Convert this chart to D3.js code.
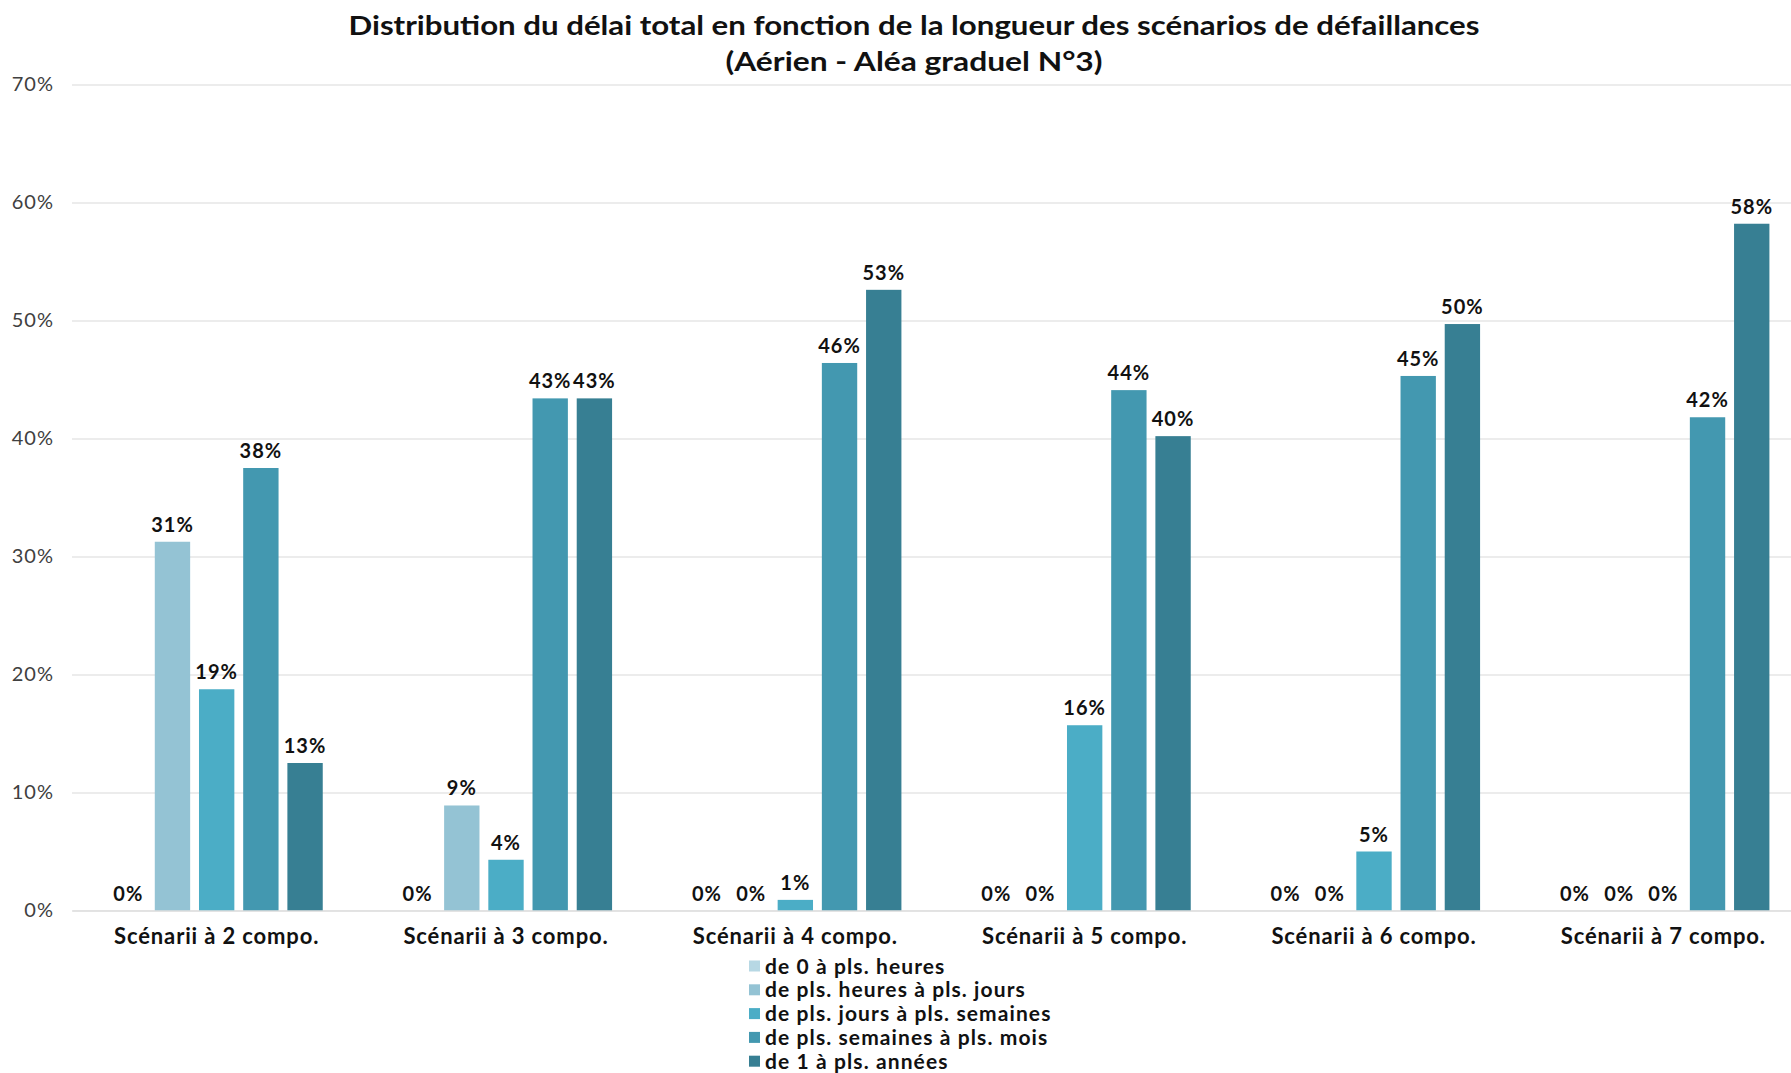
<!DOCTYPE html>
<html><head><meta charset="utf-8">
<script src="https://cdn.jsdelivr.net/npm/d3@7"></script>
<style>body{margin:0;background:#fff;}svg{display:block;font-family:Lato,"Open Sans",sans-serif;}</style>
</head><body>
<svg id="chart" width="1791" height="1073"></svg>
<script>
const categories = ["Scénarii à 2 compo.","Scénarii à 3 compo.","Scénarii à 4 compo.","Scénarii à 5 compo.","Scénarii à 6 compo.","Scénarii à 7 compo."];
const seriesNames = ["de 0 à pls. heures","de pls. heures à pls. jours","de pls. jours à pls. semaines","de pls. semaines à pls. mois","de 1 à pls. années"];
const s0 = [0,0,0,0,0,0];
const s1 = [31.25,8.9,0,0,0,0];
const s2 = [18.75,4.3,0.9,15.7,5.0,0];
const s3 = [37.5,43.4,46.4,44.1,45.3,41.8];
const s4 = [12.5,43.4,52.6,40.2,49.7,58.2];
const seriesValues = [s0,s1,s2,s3,s4];
const yTicks = [0,10,20,30,40,50,60,70];
const colors = ["#b7d8e4","#94c3d4","#4badc6","#4398b0","#377f93"];
const titleLines = ["Distribution du délai total en fonction de la longueur des scénarios de défaillances","(Aérien - Aléa graduel N°3)"];

const svg = d3.select("#chart");
const plotLeft = 72, plotRight = 1808, plotTop = 84.5, plotBottom = 910.5;
const y = d3.scaleLinear().domain([0,70]).range([plotBottom, plotTop]);
const x0 = d3.scaleBand().domain(categories).range([plotLeft, plotRight]);
const x1 = d3.scaleBand().domain(seriesNames).range([-110.5,110.5]).paddingInner(0.2).paddingOuter(0.1);

// gridlines
const yAxis = d3.axisLeft(y).tickValues(yTicks).tickFormat(d => d + "%").tickSize(-(plotRight - plotLeft)).tickPadding(18);
const gy = svg.append("g").attr("transform", `translate(${plotLeft},0)`).call(yAxis);
gy.select(".domain").remove();
gy.selectAll(".tick line").attr("stroke","#d9d9d9").attr("stroke-width",1);
gy.selectAll(".tick text").attr("font-size",20).attr("fill","#404040").attr("font-family","Lato, sans-serif").attr("letter-spacing","1");

// bars
const groups = svg.append("g").selectAll("g").data(categories).join("g")
  .attr("transform", d => `translate(${x0(d) + x0.bandwidth()/2},0)`);
seriesNames.forEach((sName, si) => {
  groups.append("rect")
    .attr("x", x1(sName))
    .attr("width", x1.bandwidth())
    .attr("y", (d,i) => y(seriesValues[si][i]))
    .attr("height", (d,i) => plotBottom - y(seriesValues[si][i]))
    .attr("fill", colors[si]);
  groups.append("text")
    .attr("x", x1(sName) + x1.bandwidth()/2)
    .attr("y", (d,i) => y(seriesValues[si][i]) - 10)
    .attr("text-anchor","middle")
    .attr("font-size",20).attr("font-weight","bold").attr("fill","#111").attr("letter-spacing","1")
    .text((d,i) => Math.round(seriesValues[si][i]) + "%");
});

// x axis
const xAxis = d3.axisBottom(x0).tickSize(0).tickPadding(18);
const gx = svg.append("g").attr("transform", `translate(0,${plotBottom})`).call(xAxis);
gx.select(".domain").attr("stroke","#d9d9d9");
gx.selectAll(".tick text").attr("font-size",22).attr("font-weight","bold").attr("fill","#111").attr("font-family","Lato, sans-serif").attr("letter-spacing","0.85");

// title
svg.append("text").attr("x",914).attr("y",35).attr("text-anchor","middle")
  .attr("font-size",27).attr("font-weight","bold").attr("fill","#111")
  .attr("textLength",1131).attr("lengthAdjust","spacingAndGlyphs").text(titleLines[0]);
svg.append("text").attr("x",914).attr("y",71).attr("text-anchor","middle")
  .attr("font-size",27).attr("font-weight","bold").attr("fill","#111")
  .attr("textLength",377).attr("lengthAdjust","spacingAndGlyphs").text(titleLines[1]);

// legend
const leg = svg.append("g").attr("transform","translate(749,966)");
const li = leg.selectAll("g").data(seriesNames).join("g").attr("transform",(d,i)=>`translate(0,${i*23.8})`);
li.append("rect").attr("x",0).attr("y",-5.5).attr("width",11).attr("height",11).attr("fill",(d,i)=>colors[i]);
li.append("text").attr("x",16).attr("y",0).attr("dy","0.36em").attr("font-size",21).attr("font-weight","bold").attr("fill","#111").attr("letter-spacing","1.1").text(d=>d);
</script>
</body></html>
